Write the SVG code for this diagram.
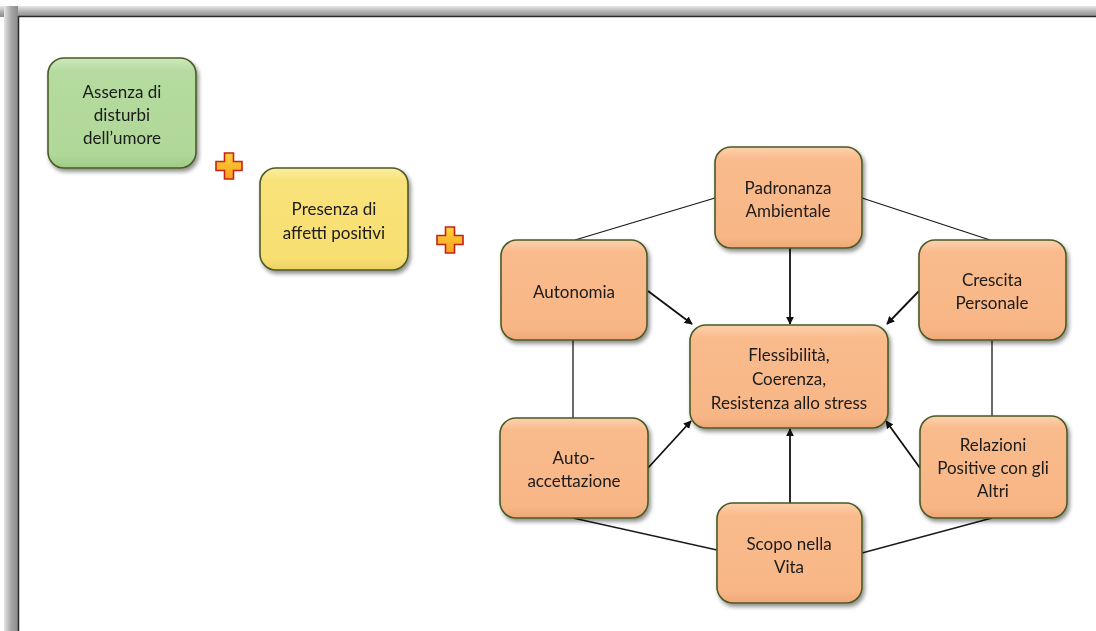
<svg xmlns="http://www.w3.org/2000/svg" width="1096" height="631" viewBox="0 0 1096 631">
  <style>
    .box { stroke: #4a5a26; stroke-width: 1.6; }
    .lbl { font-family: Lato, "Open Sans", "Liberation Sans", sans-serif; font-size: 17px; fill: #1a1a1a; text-anchor: middle; }
    .edge { stroke: #1a1a1a; stroke-width: 1.3; fill: none; }
    .arrow { stroke: #111; stroke-width: 1.8; fill: none; marker-end: url(#head); }
    .plus { fill: url(#plusFill); stroke: #c8201a; stroke-width: 1.6; stroke-linejoin: miter; }
  </style>
  <defs>
    <linearGradient id="orange" x1="0" y1="0" x2="0" y2="1">
      <stop offset="0" stop-color="#fcd2ae"/>
      <stop offset="0.12" stop-color="#f9bb8c"/>
      <stop offset="0.88" stop-color="#f8b686"/>
      <stop offset="1" stop-color="#efa877"/>
    </linearGradient>
    <linearGradient id="green" x1="0" y1="0" x2="0" y2="1">
      <stop offset="0" stop-color="#cfe8bd"/>
      <stop offset="0.12" stop-color="#b5dba0"/>
      <stop offset="0.88" stop-color="#b0d898"/>
      <stop offset="1" stop-color="#9fcb86"/>
    </linearGradient>
    <linearGradient id="yellow" x1="0" y1="0" x2="0" y2="1">
      <stop offset="0" stop-color="#fbeea0"/>
      <stop offset="0.12" stop-color="#f9e27a"/>
      <stop offset="0.88" stop-color="#f8df72"/>
      <stop offset="1" stop-color="#ecd062"/>
    </linearGradient>
    <linearGradient id="plusFill" x1="0" y1="0" x2="0" y2="1">
      <stop offset="0" stop-color="#ffd23a"/>
      <stop offset="1" stop-color="#f6a21c"/>
    </linearGradient>
    <linearGradient id="barTop" x1="0" y1="0" x2="0" y2="1">
      <stop offset="0" stop-color="#e6e6e6"/>
      <stop offset="0.6" stop-color="#a8a8a8"/>
      <stop offset="1" stop-color="#8c8c8c"/>
    </linearGradient>
    <linearGradient id="barLeft" x1="0" y1="0" x2="1" y2="0">
      <stop offset="0" stop-color="#e6e6e6"/>
      <stop offset="0.5" stop-color="#a6a6a6"/>
      <stop offset="1" stop-color="#8c8c8c"/>
    </linearGradient>
    <filter id="shadow" x="-10%" y="-10%" width="125%" height="130%">
      <feGaussianBlur in="SourceAlpha" stdDeviation="2"/>
      <feOffset dx="1.5" dy="2.5" result="b"/>
      <feComponentTransfer><feFuncA type="linear" slope="0.45"/></feComponentTransfer>
      <feMerge><feMergeNode/><feMergeNode in="SourceGraphic"/></feMerge>
    </filter>
    <marker id="head" viewBox="0 0 10 10" refX="9" refY="5" markerWidth="8" markerHeight="8" orient="auto" markerUnits="userSpaceOnUse">
      <path d="M0,0 L10,5 L0,10 z" fill="#111"/>
    </marker>
    <path id="plusShape" d="M-4.5,-13 H4.5 V-4.5 H13 V4.5 H4.5 V13 H-4.5 V4.5 H-13 V-4.5 H-4.5 Z"/>
  </defs>

  <!-- page background and window frame -->
  <rect width="1096" height="631" fill="#ffffff"/>
  <rect x="0" y="6" width="1096" height="11" fill="url(#barTop)"/>
  <rect x="4" y="6" width="14" height="625" fill="url(#barLeft)"/>
  <line x1="18" y1="16.5" x2="1096" y2="16.5" stroke="#2a2a2a" stroke-width="1.5"/>
  <line x1="18.5" y1="16" x2="18.5" y2="631" stroke="#2a2a2a" stroke-width="1.5"/>

  <!-- connectors -->
  <g id="connectors">
    <line class="edge" x1="715" y1="198" x2="575" y2="240"/>
    <line class="edge" x1="862" y1="198" x2="990" y2="240"/>
    <line class="edge" x1="573" y1="340" x2="573" y2="418"/>
    <line class="edge" x1="992" y1="340" x2="992" y2="416"/>
    <line class="edge" x1="573" y1="518" x2="717" y2="550"/>
    <line class="edge" x1="992" y1="518" x2="862" y2="553"/>
    <line class="arrow" x1="790" y1="248" x2="790" y2="324"/>
    <line class="arrow" x1="648" y1="291" x2="692" y2="324"/>
    <line class="arrow" x1="919" y1="291" x2="887" y2="324"/>
    <line class="arrow" x1="648" y1="468" x2="691" y2="421"/>
    <line class="arrow" x1="920" y1="468" x2="886" y2="421"/>
    <line class="arrow" x1="790" y1="503" x2="790" y2="429"/>
  </g>

  <!-- plus signs -->
  <g id="plus1"><use href="#plusShape" class="plus" transform="translate(229,166)"/></g>
  <g id="plus2"><use href="#plusShape" class="plus" transform="translate(450,240)"/></g>

  <g id="assenza" filter="url(#shadow)">
    <rect class="box" x="48" y="58" width="148" height="110" rx="16" fill="url(#green)"/>
    <text class="lbl" x="122" y="98">Assenza di</text>
    <text class="lbl" x="122" y="121">disturbi</text>
    <text class="lbl" x="122" y="144">dell’umore</text>
  </g>

  <g id="presenza" filter="url(#shadow)">
    <rect class="box" x="260" y="168" width="148" height="102" rx="16" fill="url(#yellow)"/>
    <text class="lbl" x="334" y="215">Presenza di</text>
    <text class="lbl" x="334" y="239">affetti positivi</text>
  </g>

  <g id="padronanza" filter="url(#shadow)">
    <rect class="box" x="715" y="147" width="147" height="101" rx="16" fill="url(#orange)"/>
    <text class="lbl" x="788" y="194">Padronanza</text>
    <text class="lbl" x="788" y="217">Ambientale</text>
  </g>

  <g id="autonomia" filter="url(#shadow)">
    <rect class="box" x="501" y="240" width="146" height="100" rx="16" fill="url(#orange)"/>
    <text class="lbl" x="574" y="298">Autonomia</text>
  </g>

  <g id="crescita" filter="url(#shadow)">
    <rect class="box" x="919" y="240" width="147" height="100" rx="16" fill="url(#orange)"/>
    <text class="lbl" x="992" y="286">Crescita</text>
    <text class="lbl" x="992" y="309">Personale</text>
  </g>

  <g id="flessibilita" filter="url(#shadow)">
    <rect class="box" x="690" y="325" width="198" height="103" rx="16" fill="url(#orange)"/>
    <text class="lbl" x="789" y="361">Flessibilità,</text>
    <text class="lbl" x="789" y="385">Coerenza,</text>
    <text class="lbl" x="789" y="409">Resistenza allo stress</text>
  </g>

  <g id="autoaccettazione" filter="url(#shadow)">
    <rect class="box" x="500" y="418" width="148" height="100" rx="16" fill="url(#orange)"/>
    <text class="lbl" x="574" y="464">Auto-</text>
    <text class="lbl" x="574" y="487">accettazione</text>
  </g>

  <g id="relazioni" filter="url(#shadow)">
    <rect class="box" x="920" y="416" width="147" height="102" rx="16" fill="url(#orange)"/>
    <text class="lbl" x="993" y="451">Relazioni</text>
    <text class="lbl" x="993" y="474">Positive con gli</text>
    <text class="lbl" x="993" y="497">Altri</text>
  </g>

  <g id="scopo" filter="url(#shadow)">
    <rect class="box" x="717" y="503" width="145" height="100" rx="16" fill="url(#orange)"/>
    <text class="lbl" x="789" y="550">Scopo nella</text>
    <text class="lbl" x="789" y="573">Vita</text>
  </g>
</svg>
